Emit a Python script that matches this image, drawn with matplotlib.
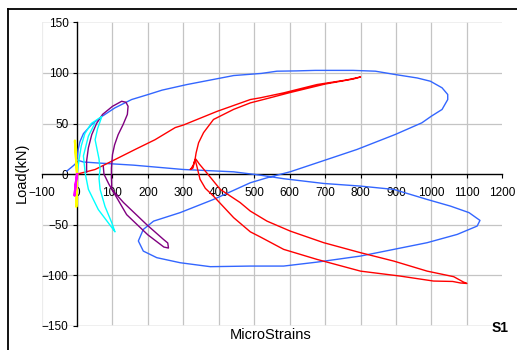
import matplotlib
matplotlib.use("Agg")
import matplotlib.pyplot as plt
from matplotlib.lines import Line2D

plt.rcParams["font.family"] = ["Liberation Sans", "DejaVu Sans"]

# load (kN) vs micro-strain traces
blue_x = [-29, -15, -5, 0, 3, 8, 18, 41, 70, 107, 154, 201, 240, 310, 442, 520, 564, 620,
          672, 779, 842, 898, 960, 997, 1030, 1046, 1046, 1030, 1000, 973, 898, 790, 691,
          602, 536, 489, 385, 291, 216, 187, 173, 187, 225, 291, 376, 489, 583, 677, 800,
          894, 988, 1073, 1129, 1137, 1106, 1054, 988, 894, 800, 696, 583, 517, 442, 300,
          159, 60, 18, 0]
blue_y = [3, 7, 10, 15, 24, 32, 40, 49, 57, 65.5, 73.7, 78.7, 83, 88.5, 97.4, 99.5, 101.7, 102,
          102.5, 102.5, 101.7, 98.4, 95, 91.8, 85.3, 78.7, 73.7, 63.9, 57.3, 50.7, 39.2, 24.4, 12.8,
          2.4, -3.6, -8.5, -25, -38, -46.4, -54.6, -66, -76, -82.5, -87.5, -91.4, -90.8, -90.8, -86.9, -80.9,
          -74.3, -67.7, -59.5, -51.3, -45.7, -38, -31.6, -25, -15.1, -11.8, -9.2, -4.5, -1, 2.3, 4.6,
          8.9, 11, 12, 14]

red_x = [0, 51, 98, 164, 220, 277, 300, 395, 489, 517, 583, 677, 760, 800, 780, 700, 600, 540,
         489, 442, 385, 357, 343, 336, 333, 328, 321, 319, 327, 333, 338, 347, 362, 385, 442,
         489, 517, 583, 677, 800, 912, 1006, 1060, 1082, 1100, 1090, 1063, 988, 894, 800, 696,
         602, 536, 489, 460, 404, 366, 345, 336]
red_y = [0, 4.6, 12.8, 24.4, 34, 46, 48.5, 62, 73.7, 75.4, 80.3, 88.5, 93, 96, 94, 89, 80.5, 75,
         70.4, 64, 54, 41, 31, 21, 14.5, 9, 5, 4.6, 6, 14.5, 8, -5, -14, -21.7, -43,
         -57, -62, -74.3, -84.2, -95.8, -100.7, -105.6, -106, -107.5, -108, -106.5, -101.3, -95.8, -85.9, -77.6, -67.7,
         -56.3, -46.4, -36.5, -28, -15, 1.3, 10, 14.5]

purple_x = [27, 27, 32, 41.5, 55, 72, 100, 126, 138, 144, 142, 130, 116, 106, 100, 97,
            97, 98, 131, 197, 244, 256, 258, 245, 200, 140, 90, 76, 74]
purple_y = [2, 13, 26, 39, 50, 59, 67, 72, 71, 67, 59, 49, 39, 29, 19.4, 6,
            -3.6, -15, -28, -50, -64.5, -68, -73, -72, -60, -40, -10, 0, 8]

cyan_x = [0, 6, 12, 22, 40, 70, 58, 51, 62, 65, 62, 65, 79, 98, 107, 103, 88, 60, 32, 23, 18, 32, 50]
cyan_y = [0, 15, 28, 40, 50, 57, 45, 34, 15, 5, -4, -15, -32, -48, -57, -55, -48, -35, -15, 1, 18, 37.5, 50]

yellow_x = [0, -3, -6, -3, 0, -1, -2, -1, 0]
yellow_y = [0, 16, 33, 16, 0, -15, -32, -15, 0]

magenta_x = [0, -4, -7, -4, 0]
magenta_y = [0, -10, -21, -10, 0]

x_ticks = list(range(-100, 1201, 100))
y_ticks = list(range(-150, 151, 50))

fig = plt.figure(figsize=(5.17, 3.5), dpi=100)
ax = fig.add_axes([41.6 / 517, 24 / 350, 460.7 / 517, 303.7 / 350])
ax.set_xlim(-100, 1200)
ax.set_ylim(-150, 150)

# grid: inner lines grey, plot-area edge lines very faint
for xv in x_ticks[2:-1]:
    ax.axvline(xv, color="#c4c4c4", lw=0.9, zorder=0)
for yv in y_ticks[1:-1]:
    if yv != 0:
        ax.axhline(yv, color="#c4c4c4", lw=0.9, zorder=0)
ax.axvline(x_ticks[0], color="#ececec", lw=0.9, zorder=0)
ax.axhline(y_ticks[0], color="#ececec", lw=1.2, zorder=0)
ax.axhline(y_ticks[-1], color="#ececec", lw=1.2, zorder=0)

ax.plot(blue_x, blue_y, color="#3366ff", lw=1.0, zorder=3)
ax.plot(red_x, red_y, color="#ff0000", lw=1.0, zorder=3)
ax.plot(purple_x, purple_y, color="#800080", lw=1.0, zorder=3)
ax.plot(cyan_x, cyan_y, color="#00ffff", lw=1.0, zorder=3)
ax.plot(yellow_x, yellow_y, color="#ffff00", lw=1.6, zorder=3)
ax.plot(magenta_x, magenta_y, color="#ff00ff", lw=1.6, zorder=3)

for s in ("top", "right"):
    ax.spines[s].set_visible(False)
ax.spines["left"].set_position(("data", 0))
ax.spines["bottom"].set_position(("data", 0))
for s in ("left", "bottom"):
    ax.spines[s].set_color("black")
    ax.spines[s].set_linewidth(1.0)
    ax.spines[s].set_zorder(2)

ax.set_xticks(x_ticks)
ax.set_yticks(y_ticks)
ax.tick_params(axis="x", direction="out", length=3, width=0.8, pad=6.5, labelsize=8.5)
ax.tick_params(axis="y", direction="out", length=3, width=0.8, pad=3.2, labelsize=8.5)

fig.text(22 / 517, 1 - 173 / 350, "Load(kN)", rotation=90, ha="center", va="center", fontsize=10.5)
fig.text(271 / 517, 1 - 335 / 350, "MicroStrains", ha="center", va="center", fontsize=10.5)
fig.text(500 / 517, 1 - 328 / 350, "S1", ha="center", va="center", fontsize=10, fontweight="bold")

# chart frame (cropped: only top and left edges show)
fig.add_artist(Line2D([8 / 517, 1.0], [1 - 9 / 350, 1 - 9 / 350], color="black", lw=1.3))
fig.add_artist(Line2D([8 / 517, 8 / 517], [0.0, 1 - 9 / 350], color="black", lw=1.3))

fig.savefig("out.png", dpi=100)
